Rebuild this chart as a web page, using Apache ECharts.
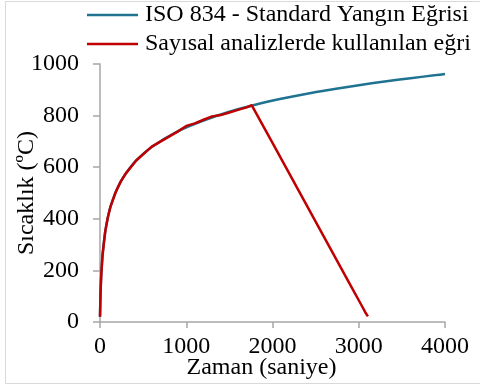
<!DOCTYPE html>
<html>
<head>
<meta charset="utf-8">
<script src="https://cdn.jsdelivr.net/npm/echarts@6/dist/echarts.min.js"></script>
<style>
  html, body { margin: 0; padding: 0; background: #fff; }
  #chart { width: 480px; height: 385px; }
</style>
</head>
<body>
<div id="chart"></div>
<script>
// Standard fire curve (time in s, temperature in °C)
const isoTime = [0, 5, 10, 15, 30, 60, 90, 120, 180, 240, 300, 420, 600, 900, 1200, 1500, 1800, 2100, 2400, 2700, 3000, 3300, 3600, 3900, 4000];
const isoTemp = [20, 97, 147, 185, 261, 349, 404, 445, 502, 544, 576, 626, 678, 739, 781, 815, 842, 865, 885, 902, 918, 932, 945, 957, 961];

// Curve used in the numerical analyses: heating phase, then linear cooling
const numTime = [0, 5, 10, 15, 30, 60, 90, 120, 180, 240, 300, 420, 600, 900, 1000, 1100, 1200, 1300, 1400, 1500, 1600, 1700, 1760, 2000, 2300, 2600, 2900, 3040, 3075, 3106];
const numTemp = [20, 97, 147, 185, 261, 349, 404, 445, 502, 544, 576, 626, 680, 738, 760, 770, 784, 797, 802, 812, 822, 832, 840, 694, 511, 328, 145, 60, 38, 22];

const seriesNames = ['ISO 834 - Standard Yangın Eğrisi', 'Sayısal analizlerde kullanılan eğri'];
const xTicks = [0, 1000, 2000, 3000, 4000];
const yTicks = [0, 200, 400, 600, 800, 1000];

const pairs = (xs, ys) => xs.map((x, i) => [x, ys[i]]);
const font = '"Liberation Serif", "Times New Roman", serif';
const axisGray = '#a6a6a6';
const plain = v => String(v);

const chart = echarts.init(document.getElementById('chart'), null, { renderer: 'canvas' });
chart.setOption({
  animation: false,
  backgroundColor: '#ffffff',
  textStyle: { fontFamily: font },
  graphic: [{
    type: 'polyline',
    shape: { points: [[481, 1.5], [5.5, 1.5], [5.5, 383.5], [481, 383.5]] },
    style: { stroke: '#d9d9d9', lineWidth: 1, fill: null },
    silent: true
  }],
  legend: {
    orient: 'vertical',
    left: 87,
    top: 3,
    icon: 'rect',
    itemWidth: 51,
    itemHeight: 2.5,
    itemGap: 5,
    padding: 0,
    textStyle: { fontFamily: font, fontSize: 24, lineHeight: 24, color: '#000', padding: [0, 0, 0, 2] },
    data: seriesNames
  },
  grid: { left: 100, right: 35, top: 64, bottom: 63, containLabel: false, outerBoundsMode: 'none' },
  xAxis: {
    type: 'value',
    min: xTicks[0],
    max: xTicks[xTicks.length - 1],
    interval: 1000,
    name: 'Zaman (saniye)',
    nameLocation: 'middle',
    nameGap: 34,
    nameMoveOverlap: false,
    nameTextStyle: { fontFamily: font, fontSize: 24, color: '#000', padding: [0, 22, 0, 0] },
    axisLine: { show: true, lineStyle: { color: axisGray, width: 1.5 } },
    axisTick: { show: true, length: 6, lineStyle: { color: axisGray, width: 1.5 } },
    axisLabel: { fontFamily: font, fontSize: 24, color: '#000', margin: 13, formatter: plain },
    splitLine: { show: false }
  },
  yAxis: {
    type: 'value',
    min: yTicks[0],
    max: yTicks[yTicks.length - 1],
    interval: 200,
    name: 'Sıcaklık (ºC)',
    nameLocation: 'middle',
    nameGap: 61,
    nameMoveOverlap: false,
    nameRotate: 90,
    nameTextStyle: { fontFamily: font, fontSize: 24, color: '#000' },
    axisLine: { show: true, lineStyle: { color: axisGray, width: 1.5 } },
    axisTick: { show: true, length: 7, lineStyle: { color: axisGray, width: 1.5 } },
    axisLabel: { fontFamily: font, fontSize: 24, color: '#000', margin: 21, formatter: plain },
    splitLine: { show: false }
  },
  series: [
    {
      name: seriesNames[0],
      type: 'line',
      data: pairs(isoTime, isoTemp),
      smooth: 0.3,
      symbol: 'none',
      lineStyle: { color: '#1f7391', width: 2.5 },
      itemStyle: { color: '#1f7391' },
      z: 2
    },
    {
      name: seriesNames[1],
      type: 'line',
      data: pairs(numTime, numTemp),
      symbol: 'none',
      lineStyle: { color: '#c00000', width: 2.5 },
      itemStyle: { color: '#c00000' },
      z: 3
    }
  ]
});
</script>
</body>
</html>
